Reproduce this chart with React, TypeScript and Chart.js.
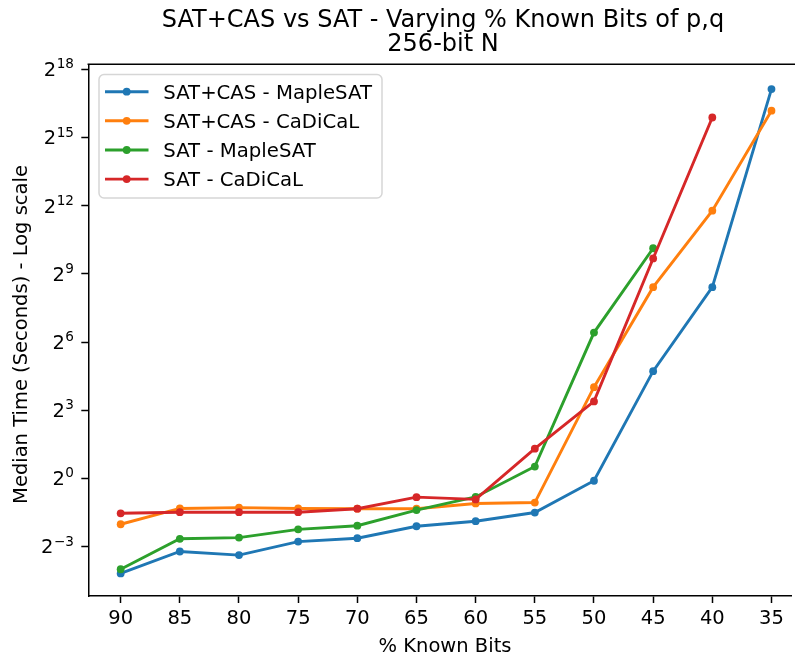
import React, { useEffect, useRef } from 'react';
import { Chart, registerables } from 'chart.js';

Chart.register(...registerables);

const categories = ['90', '85', '80', '75', '70', '65', '60', '55', '50', '45', '40', '35'];
const seriesLabels = ['SAT+CAS - MapleSAT', 'SAT+CAS - CaDiCaL', 'SAT - MapleSAT', 'SAT - CaDiCaL'];
const satCasMaple = [0.0553, 0.108, 0.0967, 0.146, 0.162, 0.233, 0.272, 0.354, 0.933, 26.4, 342, 143400];
const satCasCadical = [0.248, 0.401, 0.412, 0.401, 0.398, 0.398, 0.467, 0.48, 16.2, 342, 3517, 74250];
const satMaple = [0.0628, 0.159, 0.165, 0.212, 0.237, 0.382, 0.57, 1.44, 85.6, 1120, null, null];
const satCadical = [0.346, 0.358, 0.358, 0.358, 0.398, 0.566, 0.529, 2.48, 10.5, 820, 60300, null];
const yTickExponents = [-3, 0, 3, 6, 9, 12, 15, 18];
const colors = ['#1f77b4', '#ff7f0e', '#2ca02c', '#d62728'];

const titleLines = ['SAT+CAS vs SAT - Varying % Known Bits of p,q', '256-bit N'];
const xTitle = '% Known Bits';
const yTitle = 'Median Time (Seconds) - Log scale';

const FAMILY = '"DejaVu Sans", sans-serif';

const supMap: Record<string, string> = { '-': '\u2212' };

export default function App() {
  const ref = useRef<HTMLCanvasElement>(null);

  useEffect(() => {
    document.body.style.margin = '0';
    const canvas = ref.current;
    if (!canvas) return;
    const series = [satCasMaple, satCasCadical, satMaple, satCadical];
    const datasets = series.map((s, i) => ({
      label: seriesLabels[i],
      data: s.map((v, j) => ({ x: j, y: v })).filter((p) => p.y != null),
      borderColor: colors[i],
      backgroundColor: colors[i],
      pointBackgroundColor: colors[i],
      pointBorderWidth: 0,
      pointRadius: 3.9,
      borderWidth: 2.9,
      tension: 0,
      fill: false,
      order: 3 - i,
    }));

    const overlay = {
      id: 'overlay',
      afterDraw(chart: any) {
        const ctx = chart.ctx as CanvasRenderingContext2D;
        const { left, top, right } = chart.chartArea;
        ctx.save();
        // top frame line
        ctx.strokeStyle = '#000';
        ctx.lineWidth = 1.5;
        ctx.beginPath();
        ctx.moveTo(left - 0.75, top);
        ctx.lineTo(right + 10, top);
        ctx.stroke();

        // y tick labels (2^n)
        const ys = chart.scales.y;
        ctx.fillStyle = '#000';
        ctx.textBaseline = 'alphabetic';
        ctx.textAlign = 'left';
        yTickExponents.forEach((e) => {
          const py = ys.getPixelForValue(Math.pow(2, e));
          const expStr = String(e).split('').map((c) => supMap[c] || c).join('');
          ctx.font = `13.6px ${FAMILY}`;
          const ew = ctx.measureText(expStr).width;
          ctx.font = `19.5px ${FAMILY}`;
          const bw = ctx.measureText('2').width;
          const xr = 74;
          const xs = xr - ew - bw - 0.5;
          ctx.fillText('2', xs, py + 6.8);
          ctx.font = `13.6px ${FAMILY}`;
          ctx.fillText(expStr, xs + bw + 0.5, py - 1);
        });

        // title
        ctx.textAlign = 'center';
        ctx.font = `24px ${FAMILY}`;
        const cx = 443;
        ctx.fillText(titleLines[0], cx, 26.7);
        ctx.fillText(titleLines[1], cx, 51);

        // x title
        ctx.font = `19.5px ${FAMILY}`;
        ctx.fillText(xTitle, cx + 2, 652);

        // y title
        ctx.save();
        ctx.translate(26.7, 334.5);
        ctx.rotate(-Math.PI / 2);
        ctx.textAlign = 'center';
        ctx.fillText(yTitle, 0, 0);
        ctx.restore();

        // legend
        const lx = 99, ly = 74.5, lw = 283, lh = 123.5, r = 5;
        ctx.beginPath();
        ctx.moveTo(lx + r, ly);
        ctx.lineTo(lx + lw - r, ly);
        ctx.arcTo(lx + lw, ly, lx + lw, ly + r, r);
        ctx.lineTo(lx + lw, ly + lh - r);
        ctx.arcTo(lx + lw, ly + lh, lx + lw - r, ly + lh, r);
        ctx.lineTo(lx + r, ly + lh);
        ctx.arcTo(lx, ly + lh, lx, ly + lh - r, r);
        ctx.lineTo(lx, ly + r);
        ctx.arcTo(lx, ly, lx + r, ly, r);
        ctx.closePath();
        ctx.fillStyle = 'rgba(255,255,255,0.8)';
        ctx.fill();
        ctx.strokeStyle = '#d6d6d6';
        ctx.lineWidth = 1.5;
        ctx.stroke();

        const rows = [91.7, 120.8, 150, 179.1];
        chart.data.datasets.forEach((ds: any, i: number) => {
          const ry = rows[i];
          ctx.strokeStyle = ds.borderColor;
          ctx.lineWidth = 2.9;
          ctx.beginPath();
          ctx.moveTo(105, ry);
          ctx.lineTo(148.5, ry);
          ctx.stroke();
          ctx.fillStyle = ds.borderColor;
          ctx.beginPath();
          ctx.arc(126.7, ry, 3.9, 0, Math.PI * 2);
          ctx.fill();
          ctx.fillStyle = '#000';
          ctx.textAlign = 'left';
          ctx.textBaseline = 'alphabetic';
          ctx.font = `19.7px ${FAMILY}`;
          ctx.fillText(ds.label, 163.3, ry + 7);
        });
        ctx.restore();
      },
    };

    const chart = new Chart(canvas, {
      type: 'line',
      data: { datasets: datasets as any },
      options: {
        animation: false,
        responsive: false,
        devicePixelRatio: 1,
        layout: { padding: { top: 64.3, left: 0, right: 0, bottom: 0 } },
        plugins: {
          legend: { display: false },
          title: { display: false },
          tooltip: { enabled: false },
        },
        scales: {
          x: {
            type: 'linear',
            min: -0.547,
            max: 11.33,
            afterBuildTicks: (s: any) => {
              s.ticks = categories.map((_, i) => ({ value: i }));
            },
            afterFit: (s: any) => {
              s.height = 64;
            },
            ticks: {
              callback: (v: any) => categories[v] ?? '',
              font: { family: FAMILY, size: 19.5 },
              color: '#000',
              padding: 4,
              autoSkip: false,
              maxRotation: 0,
              minRotation: 0,
            },
            grid: {
              drawOnChartArea: false,
              drawTicks: true,
              tickLength: 7,
              tickColor: '#000',
              tickWidth: 1.5,
            },
            border: { color: '#000', width: 1.5 },
          },
          y: {
            type: 'logarithmic',
            min: 0.0278,
            max: 305400,
            afterBuildTicks: (s: any) => {
              s.ticks = yTickExponents.map((e) => ({ value: Math.pow(2, e) }));
            },
            afterFit: (s: any) => {
              s.width = 88.3;
            },
            ticks: {
              callback: () => '',
              font: { family: FAMILY, size: 19.5 },
              padding: 0,
            },
            grid: {
              drawOnChartArea: false,
              drawTicks: true,
              tickLength: 7,
              tickColor: '#000',
              tickWidth: 1.5,
            },
            border: { color: '#000', width: 1.5 },
          },
        },
      } as any,
      plugins: [overlay],
    });
    return () => chart.destroy();
  }, []);

  return (
    <div style={{ width: 795, height: 660, background: '#fff' }}>
      <canvas ref={ref} width={795} height={660} style={{ display: 'block' }} />
    </div>
  );
}
